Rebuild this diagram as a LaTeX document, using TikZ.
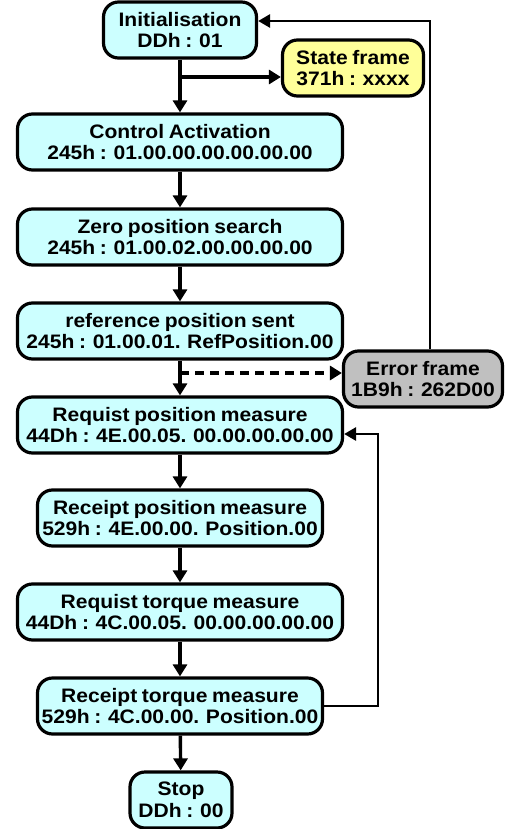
\documentclass[tikz,border=0pt]{standalone}
\usepackage{fontspec}
\setmainfont{Liberation Sans}[FakeStretch=1.08,WordSpace=0.8]
\usetikzlibrary{arrows.meta}

\definecolor{stepcyan}{HTML}{CCFFFF}
\definecolor{stateyellow}{HTML}{FFFF99}
\definecolor{errorgray}{HTML}{C0C0C0}

\tikzset{
	msgbox/.style={draw, line width=3.2pt, rounded corners=15pt, align=center,
		inner sep=0pt, minimum height=56pt,
		font=\bfseries\fontsize{19.5}{21.5}\selectfont},
	stepbox/.style={msgbox, fill=stepcyan},
	flow/.style={line width=3.4pt, -{Triangle[length=12pt,width=14pt]}},
	back/.style={line width=2.8pt, -{Triangle[length=12pt,width=13pt]}}
}

\begin{document}
\begin{tikzpicture}[x=1pt,y=-1pt]
	% Frame of the picture
	\useasboundingbox (0,0) rectangle (513,829);

	% Main sequence
	\node[stepbox, minimum width=153pt] (init) at (180,30) {Initialisation\\DDh : 01};
	\node[stepbox, minimum width=325pt] (ctrl) at (180,142) {Control Activation\\245h : 01.00.00.00.00.00.00};
	\node[stepbox, minimum width=325pt] (zero) at (180,237) {Zero position search\\245h : 01.00.02.00.00.00.00};
	\node[stepbox, minimum width=325pt] (refpos) at (180,331) {reference position sent\\245h : 01.00.01. RefPosition.00};
	\node[stepbox, minimum width=325pt] (reqpos) at (180,425) {Requist position measure\\44Dh : 4E.00.05. 00.00.00.00.00};
	\node[stepbox, minimum width=285pt] (recpos) at (180,518) {Receipt position measure\\529h : 4E.00.00. Position.00};
	\node[stepbox, minimum width=325pt] (reqtor) at (180,612) {Requist torque measure\\44Dh : 4C.00.05. 00.00.00.00.00};
	\node[stepbox, minimum width=285pt] (rector) at (180,706) {Receipt torque measure\\529h : 4C.00.00. Position.00};
	\node[stepbox, minimum width=102pt] (stop) at (181,800) {Stop\\DDh : 00};

	% Side frames
	\node[msgbox, fill=stateyellow, minimum width=141pt] (state) at (353,68) {State frame\\371h : xxxx};
	\node[msgbox, fill=errorgray, minimum width=159pt] (error) at (423,379) {Error frame\\1B9h : 262D00};

	% Helper points
	\coordinate (branch) at (180,77);
	\coordinate (dashstart) at (180,373);
	\coordinate (topright) at (430,21);
	\coordinate (loopcorner) at (378,434);

	% Arrows down
	\draw[flow] (init) -- (ctrl);
	\draw[flow] (ctrl) -- (zero);
	\draw[flow] (zero) -- (refpos);
	\draw[flow] (refpos) -- (reqpos);
	\draw[flow] (reqpos) -- (recpos);
	\draw[flow] (recpos) -- (reqtor);
	\draw[flow] (reqtor) -- (rector);
	\draw[flow] (rector) -- (stop);

	% State frame branch
	\draw[flow] (branch) -- (state.west |- branch);
	% Error frame
	\draw[flow, dash pattern=on 9pt off 6pt] (dashstart) -- (error.west |- dashstart);
	\draw[back] (error.north -| topright) -- (topright) -- (init.east |- topright);
	% Measure loop
	\draw[back] (rector.east) -- (rector.east -| loopcorner) -- (loopcorner) -- (reqpos.east |- loopcorner);

\end{tikzpicture}
\end{document}
